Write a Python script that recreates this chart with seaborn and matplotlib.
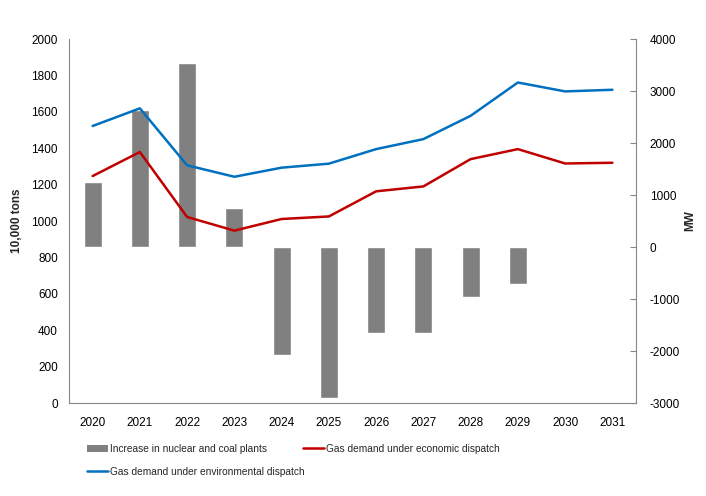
import matplotlib
matplotlib.use("Agg")
import matplotlib.pyplot as plt
import seaborn as sns
import numpy as np
import pandas as pd
from matplotlib.patches import Patch
from matplotlib.lines import Line2D

years = ["2020", "2021", "2022", "2023", "2024", "2025", "2026", "2027", "2028", "2029", "2030", "2031"]
capacity_increase_mw = [1250, 2630, 3540, 750, -2070, -2900, -1650, -1650, -955, -705, 0, 0]
gas_economic = [1247, 1379, 1022, 947, 1011, 1025, 1163, 1190, 1340, 1395, 1316, 1320]
gas_environmental = [1522, 1619, 1306, 1243, 1293, 1315, 1395, 1450, 1578, 1761, 1712, 1721]

labels = ["Increase in nuclear and coal plants",
          "Gas demand under economic dispatch",
          "Gas demand under environmental dispatch"]

bar_color = "#808080"
red = "#C00000"
blue = "#0070C0"
axis_color = "#868686"

sns.set_style("white")
plt.rcParams["font.family"] = ["Liberation Sans", "DejaVu Sans"]
plt.rcParams["axes.unicode_minus"] = False

fig = plt.figure(figsize=(7.06, 4.96), dpi=100)
ax_bar = fig.add_axes([69/706, 1-403/496, (636-69)/706, (403-39)/496])

df = pd.DataFrame({"year": years, "mw": capacity_increase_mw})
sns.barplot(data=df, x="year", y="mw", color=bar_color, width=0.38,
            saturation=1, ax=ax_bar, zorder=2)
ax_bar.set_xlabel("")
ax_bar.set_xlim(-0.5, len(years) - 0.5)

ax_line = ax_bar.twinx()
x = np.arange(len(years))
sns.lineplot(x=x, y=gas_economic, color=red, linewidth=1.8, ax=ax_line)
sns.lineplot(x=x, y=gas_environmental, color=blue, linewidth=1.8, ax=ax_line)
ax_line.set_ylim(0, 2000)
ax_line.set_yticks(np.arange(0, 2001, 200))
ax_line.yaxis.tick_left()
ax_line.yaxis.set_label_position("left")
ax_line.set_ylabel("10,000 tons", fontsize=8.5, fontweight="bold", labelpad=6)
ax_line.set_xlim(-0.5, len(years) - 0.5)

ax_bar.set_ylim(-3000, 4000)
ax_bar.set_yticks(np.arange(-3000, 4001, 1000))
ax_bar.yaxis.tick_right()
ax_bar.yaxis.set_label_position("right")
ax_bar.set_ylabel("MW", fontsize=8.5, fontweight="bold", labelpad=3)

for a in (ax_bar, ax_line):
    for s in a.spines.values():
        s.set_visible(False)
    a.tick_params(labelsize=8.5, colors="black")

ax_line.spines["left"].set_visible(True)
ax_line.spines["left"].set_color(axis_color)
ax_bar.spines["bottom"].set_visible(True)
ax_bar.spines["bottom"].set_color(axis_color)
ax_bar.spines["right"].set_visible(True)
ax_bar.spines["right"].set_color(axis_color)

ax_line.tick_params(axis="y", length=0, pad=8)
ax_bar.tick_params(axis="y", direction="in", length=4, color=axis_color, pad=10,
                   left=False, labelleft=False, right=True, labelright=True)
ax_bar.tick_params(axis="x", length=0, pad=10)

legend_kw = dict(loc="center left", frameon=False, fontsize=7.3, handlelength=2.1,
                 handletextpad=0.15, borderaxespad=0, borderpad=0)
leg1 = fig.legend([Patch(facecolor=bar_color, edgecolor="none")], [labels[0]],
                  bbox_to_anchor=(87/706, 1-449/496), handleheight=0.6, **legend_kw)
leg2 = fig.legend([Line2D([0], [0], color=red, lw=1.8)], [labels[1]],
                  bbox_to_anchor=(303/706, 1-449/496), **legend_kw)
leg3 = fig.legend([Line2D([0], [0], color=blue, lw=1.8)], [labels[2]],
                  bbox_to_anchor=(87/706, 1-472/496), **legend_kw)

fig.savefig("out.png", dpi=100)
